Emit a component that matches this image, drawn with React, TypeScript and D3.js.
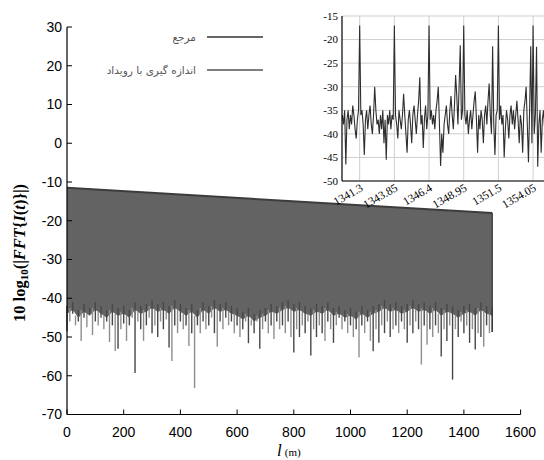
import React from "react";
import * as d3 from "d3";

// ---------- data ----------
const mainXTicks = [0, 200, 400, 600, 800, 1000, 1200, 1400, 1600];
const mainYTicks = [30, 20, 10, 0, -10, -20, -30, -40, -50, -60, -70];

// upper envelope of the dense FFT trace (peaks)
const peakEnvelope = [
  { l: 0, v: -11.5 },
  { l: 1500, v: -18 },
];
// lower boundary of the solid (dense) part of the trace, every edgeStep metres
const edgeStep = 20;
const lowerEdge = [
  -44, -43, -45, -43.5, -44.5, -43, -44, -45, -43.5, -44.5,
  -44, -45, -43, -44, -43.5, -42.5, -43.5, -43, -44, -42.5,
  -43.5, -44.5, -43.5, -45, -43, -44, -42.5, -43.5, -43, -44,
  -44.5, -45.5, -44.5, -46, -45, -44.5, -43.5, -44, -43, -42.5,
  -43.5, -43, -44, -44.5, -43.5, -44, -43, -44.5, -44, -45,
  -44.5, -45.5, -44, -45, -44, -43.5, -42.5, -43.5, -43, -44,
  -43.5, -42.5, -43.5, -43, -44, -43, -44.5, -43.5, -44, -45,
  -44, -43.5, -44.5, -43, -44, -44.5,
];
// lower extremes of the dense trace, one every troughStep metres from 0 to 1500
const troughStep = 10;
const troughs = [
  -48.5, -46, -44, -47, -46, -51, -45, -47.5, -44, -49.5,
  -46, -47, -45, -48, -46, -51.3, -47, -53.6, -53, -48,
  -46.5, -51, -47, -45, -59.3, -46, -48, -51, -47, -45,
  -49, -47, -50, -46, -48, -45.5, -52.7, -56.2, -47, -49,
  -46, -48, -47, -52.3, -49, -63.2, -47, -49, -46, -48,
  -47, -45, -49, -52.5, -46, -48, -45, -47, -46, -49,
  -47, -50, -48, -46, -51.6, -47, -49, -46, -53, -48,
  -46, -49, -47, -50.5, -46, -48, -47, -49, -46, -50,
  -54, -48, -50, -47, -49, -46, -54.8, -48, -50, -47,
  -49, -51, -46, -48, -51.5, -47, -45, -48, -46, -49,
  -47, -50, -48, -55.2, -47, -49, -46, -51, -53.7, -48,
  -51.5, -47, -49, -46, -50, -48, -47, -49, -46, -48,
  -51.5, -47, -49, -46, -48, -57.1, -47, -52, -48, -50,
  -47, -49, -55, -48, -51, -47, -61, -48, -50, -46,
  -49, -47, -51.5, -48, -53.2, -49, -50, -52.5, -47, -49,
  -48.7,
];

// inset (zoom 1340 – 1355 m)
const insetXTicks = [1341.3, 1343.85, 1346.4, 1348.95, 1351.5, 1354.05];
const insetYTicks = [-15, -20, -25, -30, -35, -40, -45, -50];
const insetStart = 1340.025;
const insetStep = 0.085;
const insetValues = [
  -36, -38, -35, -46.5, -37, -35, -39, -36, -38, -34, -36, -39, -41, -37, -35,
  -17,
  -36, -35, -38, -44.5, -37, -35, -39, -36, -34, -38, -40, -36, -30, -35, -38,
  -37, -40, -36, -39, -35, -42, -37, -45.5, -36, -38, -35, -39, -36, -37,
  -17,
  -36, -38, -41, -35, -37, -39, -36, -31.5, -36, -40, -44, -37, -35, -38, -42,
  -36, -34, -37, -40, -36, -33, -28, -38, -36, -43, -37, -34, -39, -36,
  -17,
  -37, -35, -38, -36, -39, -35, -33, -30, -38, -46.8, -40, -44, -38, -36, -34,
  -38, -40, -35, -32, -36, -39, -34, -27.5, -32, -38, -30, -21.2, -37, -35,
  -17,
  -36, -38, -35, -40, -37, -35, -39, -36, -33, -31, -37, -44, -36, -39, -35,
  -37, -42, -36, -34, -38, -33, -29.3, -36, -40, -21.4, -38, -44.5, -36, -35,
  -17,
  -37, -34, -38, -36, -45, -39, -35, -37, -41, -36, -34, -38, -35, -39, -36,
  -33, -37, -42, -36, -38, -44, -35, -33, -30, -38, -46, -35, -21.4, -42,
  -17,
  -40, -36, -21.5, -47, -38, -35, -44, -37, -35, -39, -36,
];

const legendLabels = ["مرجع", "اندازه گیری با رویداد"];

// ---------- chart ----------
const W = 544;
const H = 460;

export default function App() {
  const x = d3.scaleLinear().domain([0, 1600]).range([67, 520.6]);
  const y = d3.scaleLinear().domain([-70, 30]).range([414.5, 27]);

  const ix = d3.scaleLinear().domain([1340, 1355]).range([342, 546]);
  const iy = d3.scaleLinear().domain([-50, -15]).range([181, 16]);

  // top envelope drawn linearly between its two end points
  const topAt = d3
    .scaleLinear()
    .domain(peakEnvelope.map((d) => d.l))
    .range(peakEnvelope.map((d) => d.v));

  const fill = d3
    .area<number>()
    .x((_, i) => x(i * edgeStep))
    .y0((d) => y(d))
    .y1((_, i) => y(topAt(i * edgeStep)));

  const topLine = d3
    .line<{ l: number; v: number }>()
    .x((d) => x(d.l))
    .y((d) => y(d.v));

  const insetLine = d3
    .line<number>()
    .x((_, i) => ix(insetStart + i * insetStep))
    .y((d) => iy(d));

  const sans = "'Liberation Sans', Arial, sans-serif";
  const serif = "'Liberation Serif', 'Times New Roman', serif";

  const lastL = (troughs.length - 1) * troughStep;
  const edgeAt = (l: number) =>
    lowerEdge[Math.min(lowerEdge.length - 1, Math.round(l / edgeStep))];

  return (
    <svg
      width={W}
      height={H}
      style={{ position: "absolute", left: 0, top: 0, background: "#fff" }}
    >
      <defs>
        <clipPath id="insetClip">
          <rect x={342} y={10} width={202} height={171} />
        </clipPath>
      </defs>

      {/* main filled trace */}
      <path d={fill(lowerEdge) || ""} fill="#636363" />
      {troughs.map((v, i) => (
        <line
          key={i}
          x1={x(i * troughStep)}
          x2={x(i * troughStep)}
          y1={y(edgeAt(i * troughStep) + (i % 2 === 0 ? 2 : 0.5))}
          y2={y(v)}
          stroke={i % 2 === 0 ? "#474747" : "#8e8e8e"}
          strokeWidth={1.4}
        />
      ))}
      <line
        x1={x(lastL)}
        x2={x(lastL)}
        y1={y(peakEnvelope[1].v)}
        y2={y(troughs[troughs.length - 1])}
        stroke="#3a3a3a"
        strokeWidth={1.3}
      />
      <path d={topLine(peakEnvelope) || ""} fill="none" stroke="#3c3c3c" strokeWidth={2} />

      {/* main axes */}
      <line x1={67} x2={67} y1={y(30)} y2={y(-70)} stroke="#000" strokeWidth={1.2} />
      <line x1={67} x2={x(1600)} y1={y(-70)} y2={y(-70)} stroke="#000" strokeWidth={1.2} />
      {mainYTicks.map((t) => (
        <g key={"y" + t}>
          <line x1={67} x2={72} y1={y(t)} y2={y(t)} stroke="#000" strokeWidth={1} />
          <text
            x={62}
            y={y(t)}
            dy="0.35em"
            textAnchor="end"
            fontFamily={sans}
            fontSize={14}
            fill="#000"
          >
            {t}
          </text>
        </g>
      ))}
      {mainXTicks.map((t) => (
        <g key={"x" + t}>
          <line x1={x(t)} x2={x(t)} y1={y(-70)} y2={y(-70) - 5} stroke="#000" strokeWidth={1} />
          <text
            x={x(t)}
            y={437}
            textAnchor="middle"
            fontFamily={sans}
            fontSize={14}
            fill="#000"
          >
            {t}
          </text>
        </g>
      ))}

      {/* axis titles */}
      <text x={277} y={456} fontFamily={serif} fill="#000">
        <tspan fontStyle="italic" fontSize={17}>l</tspan>
        <tspan fontSize={11} dx={3}>(m)</tspan>
      </text>
      <text
        transform="translate(25,253) rotate(-90)"
        textAnchor="middle"
        fontFamily={serif}
        fontWeight="bold"
        fontSize={16.5}
        fill="#000"
      >
        <tspan>10 log</tspan>
        <tspan fontSize={11} dy={3}>10</tspan>
        <tspan dy={-3}>(|</tspan>
        <tspan fontStyle="italic">FFT</tspan>
        <tspan>{"{"}</tspan>
        <tspan fontStyle="italic">I</tspan>
        <tspan>(</tspan>
        <tspan fontStyle="italic">t</tspan>
        <tspan>{")}|)"}</tspan>
      </text>

      {/* legend */}
      {legendLabels.map((lab, i) => (
        <g key={"lg" + i}>
          <line
            x1={207}
            x2={263}
            y1={37 + i * 33}
            y2={37 + i * 33}
            stroke={i === 0 ? "#333" : "#555"}
            strokeWidth={1.6}
          />
          <text
            x={196}
            y={37 + i * 33}
            dy="0.35em"
            textAnchor="end"
            fontFamily="'DejaVu Sans', sans-serif"
            fontSize={10.5}
            fill="#555"
          >
            {lab}
          </text>
        </g>
      ))}

      {/* inset */}
      <rect x={342} y={16} width={202} height={165} fill="#fff" />
      {insetYTicks.map((t) => (
        <line
          key={"igy" + t}
          x1={342}
          x2={544}
          y1={iy(t)}
          y2={iy(t)}
          stroke="#cfcfcf"
          strokeWidth={1}
        />
      ))}
      {insetXTicks.map((t) => (
        <line
          key={"igx" + t}
          x1={ix(t)}
          x2={ix(t)}
          y1={iy(-15)}
          y2={iy(-50)}
          stroke="#cfcfcf"
          strokeWidth={1}
        />
      ))}
      <g clipPath="url(#insetClip)">
        <path d={insetLine(insetValues) || ""} fill="none" stroke="#2e2e2e" strokeWidth={1.1} />
      </g>
      <line x1={342} x2={342} y1={iy(-15)} y2={iy(-50)} stroke="#000" strokeWidth={1.2} />
      <line x1={342} x2={544} y1={iy(-50)} y2={iy(-50)} stroke="#000" strokeWidth={1.2} />
      {insetYTicks.map((t) => (
        <text
          key={"ity" + t}
          x={338}
          y={iy(t)}
          dy="0.35em"
          textAnchor="end"
          fontFamily={serif}
          fontSize={11}
          fill="#000"
        >
          {t}
        </text>
      ))}
      {insetXTicks.map((t) => (
        <text
          key={"itx" + t}
          transform={`translate(${ix(t) + 4},${iy(-50) + 9}) rotate(-30)`}
          textAnchor="end"
          fontFamily={serif}
          fontSize={11.5}
          fill="#000"
        >
          {t}
        </text>
      ))}
    </svg>
  );
}
